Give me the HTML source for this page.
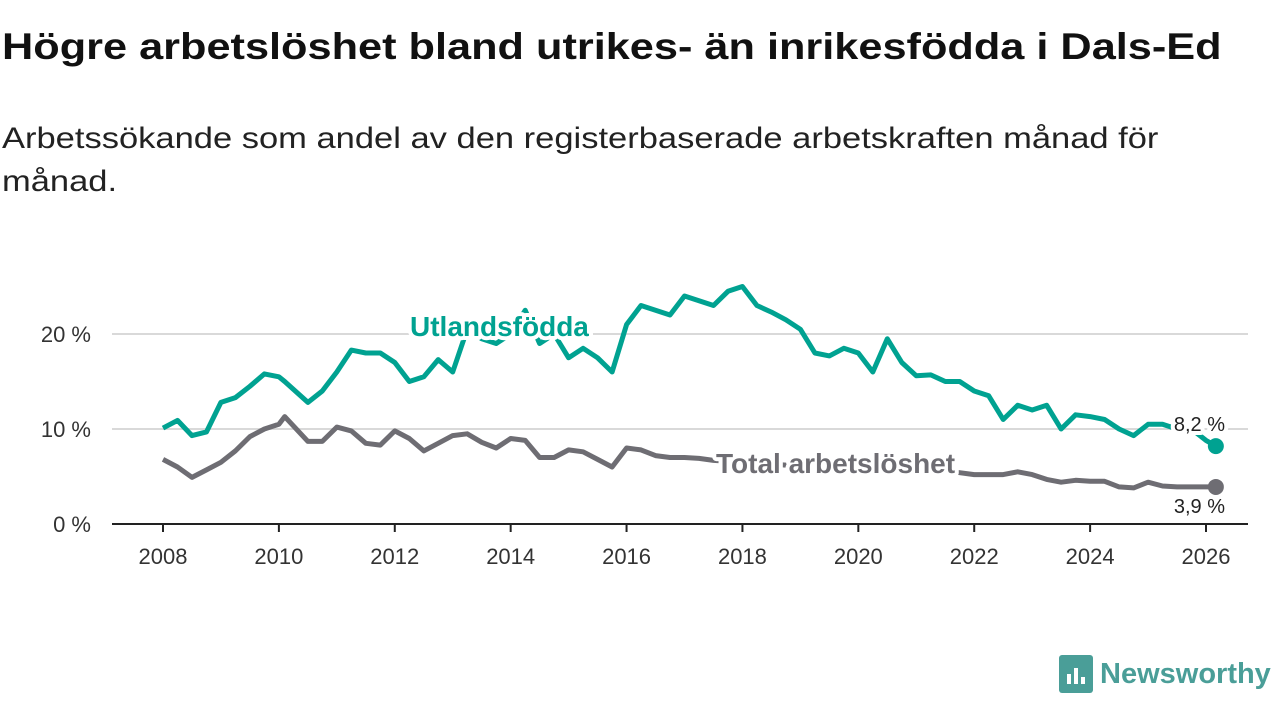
<!DOCTYPE html>
<html><head><meta charset="utf-8"><style>
body{margin:0;width:1280px;height:720px;background:#fff;font-family:"Liberation Sans","DejaVu Sans",sans-serif;overflow:hidden}
h1{position:absolute;left:2px;top:26px;margin:0;font-size:37px;font-weight:bold;color:#111;transform:scaleX(1.17);transform-origin:0 0;white-space:nowrap}
p{position:absolute;left:2px;top:117px;margin:0;font-size:30px;line-height:43px;color:#222;width:1020px;transform:scaleX(1.15);transform-origin:0 0}
svg{position:absolute;left:0;top:0}
</style></head><body>
<h1>Högre arbetslöshet bland utrikes- än inrikesfödda i Dals-Ed</h1>
<p>Arbetssökande som andel av den registerbaserade arbetskraften månad för månad.</p>
<svg id="chart" width="1280" height="720"></svg>
<script>
const years=[2008,2008.25,2008.5,2008.75,2009,2009.25,2009.5,2009.75,2010,2010.1,2010.5,2010.75,2011,2011.25,2011.5,2011.75,2012,2012.25,2012.5,2012.75,2013,2013.25,2013.5,2013.75,2014,2014.25,2014.5,2014.75,2015,2015.25,2015.5,2015.75,2016,2016.25,2016.5,2016.75,2017,2017.25,2017.5,2017.75,2018,2018.25,2018.5,2018.75,2019,2019.25,2019.5,2019.75,2020,2020.25,2020.5,2020.75,2021,2021.25,2021.5,2021.75,2022,2022.25,2022.5,2022.75,2023,2023.25,2023.5,2023.75,2024,2024.25,2024.5,2024.75,2025,2025.25,2025.5,2025.75,2026,2026.17];
const foreignBorn=[10.1,10.9,9.3,9.7,12.8,13.3,14.5,15.8,15.5,15.0,12.8,14.0,16.0,18.3,18.0,18.0,17.0,15.0,15.5,17.3,16.0,20.5,19.5,19.0,20.0,22.5,19.0,20.0,17.5,18.5,17.5,16.0,21.0,23.0,22.5,22.0,24.0,23.5,23.0,24.5,25.0,23.0,22.3,21.5,20.5,18.0,17.7,18.5,18.0,16.0,19.5,17.0,15.6,15.7,15.0,15.0,14.0,13.5,11.0,12.5,12.0,12.5,10.0,11.5,11.3,11.0,10.0,9.3,10.5,10.5,10.0,10.0,8.8,8.2];
const total=[6.8,6.0,4.9,5.7,6.5,7.7,9.2,10.0,10.5,11.3,8.7,8.7,10.2,9.8,8.5,8.3,9.8,9.0,7.7,8.5,9.3,9.5,8.6,8.0,9.0,8.8,7.0,7.0,7.8,7.6,6.8,6.0,8.0,7.8,7.2,7.0,7.0,6.9,6.7,6.6,6.6,6.4,6.3,6.2,6.2,6.3,6.4,6.5,6.5,6.3,6.2,6.1,6.0,5.8,5.6,5.4,5.2,5.2,5.2,5.5,5.2,4.7,4.4,4.6,4.5,4.5,3.9,3.8,4.4,4.0,3.9,3.9,3.9,3.9];
const yTicks=[0,10,20];
const xTicks=[2008,2010,2012,2014,2016,2018,2020,2022,2024,2026];
const X=y=>163+(y-2008)*(1206-163)/18;
const Y=v=>524-v*9.5;
const svg=document.getElementById('chart');
const NS='http://www.w3.org/2000/svg';
function mk(t,a){const e=document.createElementNS(NS,t);for(const k in a)e.setAttribute(k,a[k]);svg.appendChild(e);return e;}
yTicks.forEach(v=>{
 if(v>0){const g=mk('line',{x1:112,x2:1248,y1:Y(v),y2:Y(v),stroke:'#d9d9d9','stroke-width':2});
 
 }
 const t=mk('text',{x:91,y:Y(v)+8,'text-anchor':'end','font-size':22,fill:'#333'});
 t.textContent=v+' %';
 
 
});
const ax=mk('line',{x1:112,x2:1248,y1:524,y2:524,stroke:'#222','stroke-width':2});


xTicks.forEach(y=>{
 const tk=mk('line',{x1:X(y),x2:X(y),y1:524,y2:532,stroke:'#222','stroke-width':2});
 
 
 const t=mk('text',{x:X(y),y:564,'text-anchor':'middle','font-size':22,fill:'#333'});
 t.textContent=y;
 
 
});
function series(vals,color,name){
 const d=vals.map((v,i)=>(i?'L':'M')+X(years[i]).toFixed(1)+','+Y(v).toFixed(1)).join('');
 const p=mk('path',{d:d,fill:'none',stroke:color,'stroke-width':5,'stroke-linejoin':'round'});
 
 
 const n=vals.length-1;
 const c=mk('circle',{cx:X(years[n]),cy:Y(vals[n]),r:8,fill:color});
 
 
}
series(total,'#6e6d73','total');
series(foreignBorn,'#00a291','foreign-born');
function label(x,y,txt,color,size,weight,anchor,name){
 const t=mk('text',{x:x,y:y,'text-anchor':anchor,'font-size':size,'font-weight':weight,fill:color,stroke:'#fff','stroke-width':8,'paint-order':'stroke','stroke-linejoin':'round'});
 t.textContent=txt;
 
 
}
label(410,336,'Utlandsfödda','#00a291',28,'bold','start','foreign-born-label');
label(716,473,'Total arbetslöshet','#6e6d73',28,'bold','start','total-label');
label(1225,431,'8,2 %','#222',20,'normal','end','foreign-born-value');
label(1225,513,'3,9 %','#222',20,'normal','end','total-value');
</script>
<div style="position:absolute;left:1059px;top:655px;display:flex;align-items:center">
 <div style="width:34px;height:38px;background:#4a9e98;border-radius:3px;position:relative">
  <div style="position:absolute;left:8px;bottom:9px;width:4px;height:10px;background:#fff"></div>
  <div style="position:absolute;left:15px;bottom:9px;width:4px;height:16px;background:#fff"></div>
  <div style="position:absolute;left:22px;bottom:9px;width:4px;height:7px;background:#fff"></div>
 </div>
 <span style="margin-left:7px;font-size:29px;color:#4a9e98;font-weight:bold">Newsworthy</span>
</div>
</body></html>
